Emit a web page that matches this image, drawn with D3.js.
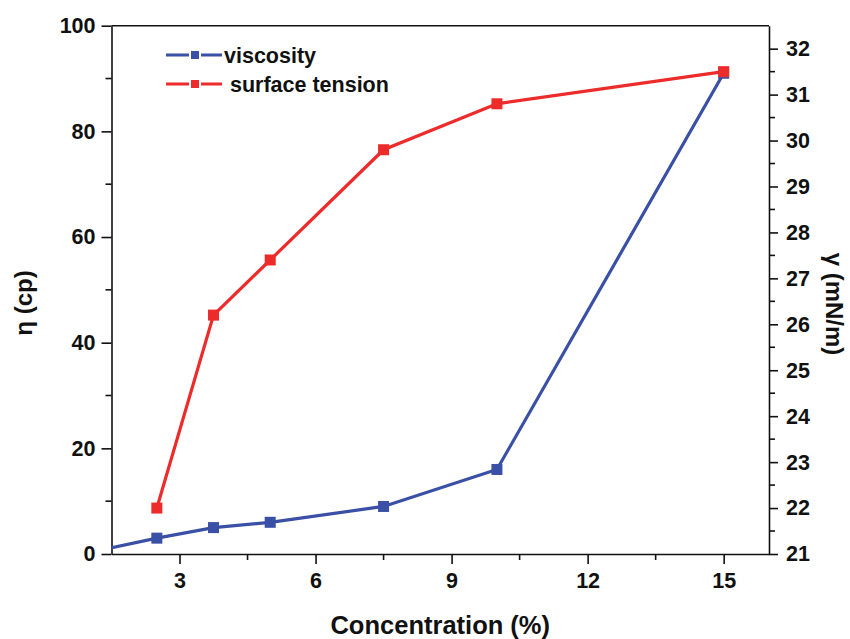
<!DOCTYPE html>
<html>
<head>
<meta charset="utf-8">
<script src="https://cdn.jsdelivr.net/npm/d3@7"></script>
<style>
  body { margin: 0; background: #fff; }
  text { font-family: "Liberation Sans", Arial, sans-serif; font-weight: bold; fill: #111; }
</style>
</head>
<body>
<script>
// concentration (%) and the two measured series
const conc = [1.25, 2.5, 3.75, 5, 7.5, 10, 15]
const viscosity = [0.75, 3, 5, 6, 9, 16, 91]
const tensionConc = [2.5, 3.75, 5, 7.5, 10, 15]
const tension = [22.0, 26.2, 27.4, 29.8, 30.8, 31.5]
const xTicks = [3, 6, 9, 12, 15]
const leftTicks = [0, 20, 40, 60, 80, 100]
const rightTicks = d3.range(21, 33)

const W = 850, H = 639,
  L = 111.5, R = 769, T = 25.7, B = 554,
  blue = "#3a4fa6", red = "#ee2b2b"

let svg = d3.select("body").append("svg")
  .attr("width", W).attr("height", H)

let x = d3.scaleLinear().domain([1.5, 16]).range([L, R]),
    yL = d3.scaleLinear().domain([0, 100]).range([B, T]),
    yR = d3.scaleLinear().domain([21, 32.5]).range([B, T])

svg.append("defs").append("clipPath").attr("id", "clip")
  .append("rect").attr("x", L).attr("y", T).attr("width", R - L).attr("height", B - T)

// frame
svg.append("line").attr("x1", L).attr("x2", R).attr("y1", T).attr("y2", T)
  .attr("stroke", "#111").attr("stroke-width", 1.5)

// bottom axis
let gx = svg.append("g").attr("transform", "translate(0," + B + ")")
  .call(d3.axisBottom(x).tickValues(xTicks).tickSize(10).tickPadding(9).tickSizeOuter(0))
gx.append("g").selectAll("line").data([4.5, 7.5, 10.5, 13.5]).join("line")
  .attr("x1", d => x(d)).attr("x2", d => x(d)).attr("y1", 0).attr("y2", 6)
// left axis
let gl = svg.append("g").attr("transform", "translate(" + L + ",0)")
  .call(d3.axisLeft(yL).tickValues(leftTicks).tickSize(10).tickPadding(6).tickSizeOuter(0))
gl.append("g").selectAll("line").data([10, 30, 50, 70, 90]).join("line")
  .attr("y1", d => yL(d)).attr("y2", d => yL(d)).attr("x1", 0).attr("x2", -6)
// right axis
let gr = svg.append("g").attr("transform", "translate(" + R + ",0)")
  .call(d3.axisRight(yR).tickValues(rightTicks).tickSize(9).tickPadding(8).tickSizeOuter(0))
gr.append("g").selectAll("line").data(d3.range(21.5, 32.5, 1)).join("line")
  .attr("y1", d => yR(d)).attr("y2", d => yR(d)).attr("x1", 0).attr("x2", 6)

svg.selectAll(".domain").attr("stroke", "#111").attr("stroke-width", 1.6)
svg.selectAll("g line").attr("stroke", "#111").attr("stroke-width", 1.6)
svg.selectAll(".tick text").style("font-size", "21.5px")
  .style("font-family", "'Liberation Sans', Arial, sans-serif").style("font-weight", "bold").attr("fill", "#111")

// axis titles
svg.append("text").attr("x", (L + R) / 2).attr("y", 634).attr("text-anchor", "middle")
  .style("font-size", "25.5px").text("Concentration (%)")
svg.append("text").attr("transform", "translate(32,303) rotate(-90)").attr("text-anchor", "middle")
  .style("font-size", "24px").text("η (cp)")
svg.append("text").attr("transform", "translate(826,304) rotate(90)").attr("text-anchor", "middle")
  .style("font-size", "24px").text("γ (mN/m)")

// series
let plot = svg.append("g").attr("clip-path", "url(#clip)")
let vData = conc.map((c, i) => [c, viscosity[i]]),
    tData = tensionConc.map((c, i) => [c, tension[i]])

plot.append("path").datum(vData)
  .attr("d", d3.line().x(d => x(d[0])).y(d => yL(d[1])))
  .attr("fill", "none").attr("stroke", blue).attr("stroke-width", 3.2)
svg.append("g").selectAll("rect").data(vData.filter(d => d[0] >= 1.5)).join("rect")
  .attr("x", d => x(d[0]) - 5.5).attr("y", d => yL(d[1]) - 5.5)
  .attr("width", 11).attr("height", 11).attr("fill", blue)

plot.append("path").datum(tData)
  .attr("d", d3.line().x(d => x(d[0])).y(d => yR(d[1])))
  .attr("fill", "none").attr("stroke", red).attr("stroke-width", 3.2)
svg.append("g").selectAll("rect").data(tData).join("rect")
  .attr("x", d => x(d[0]) - 5.5).attr("y", d => yR(d[1]) - 5.5)
  .attr("width", 11).attr("height", 11).attr("fill", red)

// legend
const legend = [["viscosity", blue, 224], [" surface tension", red, 224]]
legend.forEach((l, i) => {
  let yy = 55 + i * 29
  svg.append("line").attr("x1", 166).attr("x2", 222).attr("y1", yy).attr("y2", yy)
    .attr("stroke", l[1]).attr("stroke-width", 3.2)
  svg.append("rect").attr("x", 190).attr("y", yy - 5).attr("width", 10).attr("height", 10)
    .attr("fill", l[1]).attr("stroke", "#fff").attr("stroke-width", 2)
  svg.append("text").attr("x", l[2]).attr("y", yy + 8).style("font-size", "21.5px")
    .attr("xml:space", "preserve").style("white-space", "pre").text(l[0])
})
</script>
</body>
</html>
